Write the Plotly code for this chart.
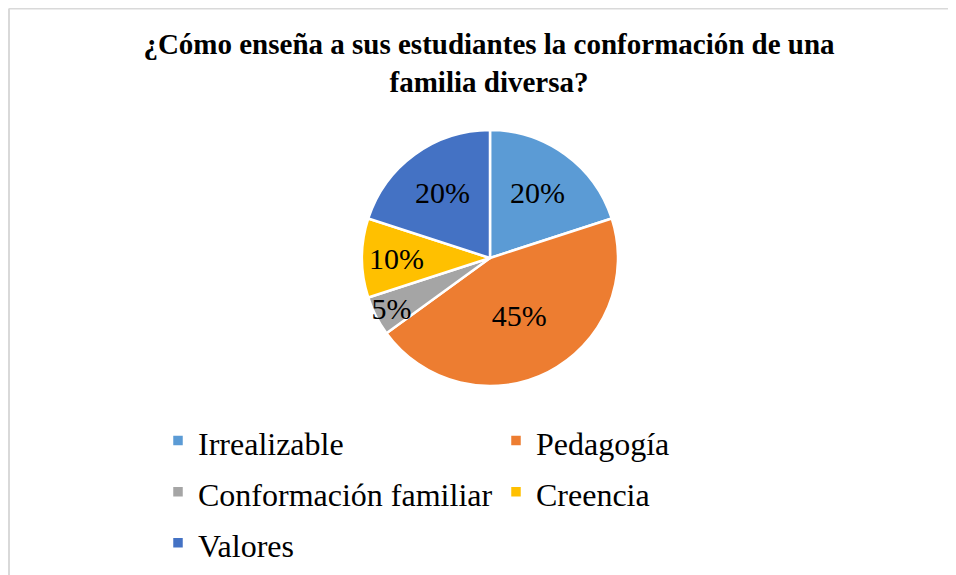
import plotly.graph_objects as go

labels = ["Irrealizable", "Pedagogía", "Conformación familiar", "Creencia", "Valores"]
values = [20, 45, 5, 10, 20]
colors = ["#5B9BD5", "#ED7D31", "#A5A5A5", "#FFC000", "#4472C4"]
title_text = "<b>¿Cómo enseña a sus estudiantes la conformación de una<br>familia diversa?</b>"

W, H = 956, 575
FONT = "Liberation Serif"
OFF = 8  # page body margin

cx, cy, r = 490 - OFF, 258 - OFF, 128

legend_labels = ['<span style="font-size:32px">%s</span>' % s for s in labels]

fig = go.Figure(go.Pie(
    labels=legend_labels,
    values=values,
    marker=dict(colors=colors, line=dict(color="white", width=2.5)),
    sort=False,
    direction="clockwise",
    rotation=0,
    textinfo="percent",
    texttemplate="%{percent:.0%}",
    textposition="inside",
    insidetextorientation="horizontal",
    textfont=dict(family=FONT, size=30, color="black"),
    domain=dict(x=[(cx - r) / W, (cx + r) / W], y=[1 - (cy + r) / H, 1 - (cy - r) / H]),
    hoverinfo="skip",
))

fig.update_layout(
    width=W, height=H,
    margin=dict(l=0, r=0, t=0, b=0),
    paper_bgcolor="white",
    plot_bgcolor="white",
    uniformtext=dict(minsize=30, mode="show"),
    title=dict(
        text=title_text,
        x=(489 - OFF) / W, xanchor="center",
        y=1 - 46 / H, yanchor="top",
        font=dict(family=FONT, size=29, color="black"),
    ),
    legend=dict(
        orientation="h",
        x=(158 - OFF) / W, xanchor="left",
        y=1 - (410 - OFF) / H, yanchor="top",
        entrywidth=293, entrywidthmode="pixels",
        font=dict(family=FONT, size=37, color="black"),
        traceorder="normal",
    ),
    shapes=[
        dict(type="line", xref="paper", yref="paper", x0=1 / W, x1=1, y0=1 - 0.5 / H, y1=1 - 0.5 / H,
             line=dict(color="#D9D9D9", width=2)),
        dict(type="line", xref="paper", yref="paper", x0=1 / W, x1=1 / W, y0=0, y1=1 - 0.5 / H,
             line=dict(color="#D9D9D9", width=2)),
    ],
)

fig.write_html("out.html")
